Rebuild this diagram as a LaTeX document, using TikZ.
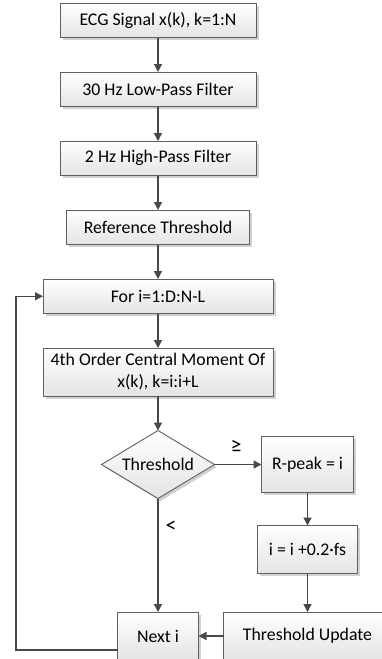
\documentclass[tikz,border=0pt]{standalone}
\usepackage{fontspec}
\setmainfont{Carlito}
\usetikzlibrary{positioning,arrows.meta,shapes.geometric,shadows}
\definecolor{EdgeGray}{RGB}{96,96,96}
\definecolor{LineGray}{RGB}{72,72,72}
\definecolor{TopFill}{RGB}{255,255,255}
\definecolor{BottomFill}{RGB}{228,228,228}
\tikzset{
  flow/.style={-{Triangle[length=8pt,width=8pt]},line width=1.3pt,draw=LineGray},
  box/.style={draw=EdgeGray,line width=0.9pt,top color=TopFill,bottom color=BottomFill,
    minimum height=34.5pt,align=center,inner sep=2pt,outer sep=0pt,
    font=\fontsize{17.8}{22}\selectfont,
    drop shadow={shadow xshift=2.5pt,shadow yshift=-2.5pt,fill=black!30,opacity=0.6}},
  decision/.style={box,diamond,aspect=1.66,inner sep=0pt,minimum width=113pt,minimum height=68pt},
  condlabel/.style={font=\fontsize{22}{24}\selectfont,inner sep=1pt}
}
\begin{document}
\begin{tikzpicture}[node distance=34.5pt]
  \useasboundingbox (0,0) rectangle (381pt,-659pt);
  \node[box,minimum width=196pt] (ecg) at (158pt,-20.25pt) {ECG Signal x(k), k=1:N};
  \node[box,below=of ecg,minimum width=196pt] (lpf) {30 Hz Low-Pass Filter};
  \node[box,below=of lpf,minimum width=196pt] (hpf) {2 Hz High-Pass Filter};
  \node[box,below=of hpf,minimum width=183pt] (ref) {Reference Threshold};
  \node[box,below=of ref,minimum width=230pt] (for) {For i=1:D:N-L};
  \node[box,below=of for,minimum width=230pt,minimum height=48pt] (moment) {4th Order Central Moment Of\\x(k), k=i:i+L};
  \node[decision,below=of moment] (thr) {Threshold};
  \node[box,right=47pt of thr,minimum width=92pt,minimum height=56pt] (rpeak) {R-peak = i};
  \node[box,below=33pt of rpeak,minimum width=100pt,minimum height=48pt] (inc) {i = i +0.2·fs};
  \node[box,below=38.5pt of inc,minimum width=168pt,minimum height=48pt] (upd) {Threshold Update};
  \node[box,left=25pt of upd,minimum width=81pt,minimum height=48pt] (next) {Next i};
  \coordinate[left=27pt of for.west] (back);

  \draw[flow] (ecg) -- (lpf);
  \draw[flow] (lpf) -- (hpf);
  \draw[flow] (hpf) -- (ref);
  \draw[flow] (ref) -- (for);
  \draw[flow] (for) -- (moment);
  \draw[flow] (moment) -- (thr);
  \draw[flow] (thr) -- node[condlabel,above=10pt,xshift=-2pt] {≥} (rpeak);
  \draw[flow] (rpeak) -- (inc);
  \draw[flow] (inc) -- (upd);
  \draw[flow] (upd) -- (next);
  \draw[flow] (thr) -- node[condlabel,pos=0.25,right=6pt] {<} (next);
  % back to the loop head
  \draw[flow] ([yshift=-14pt]next.west) -| (back) -- (for.west);
\end{tikzpicture}
\end{document}
